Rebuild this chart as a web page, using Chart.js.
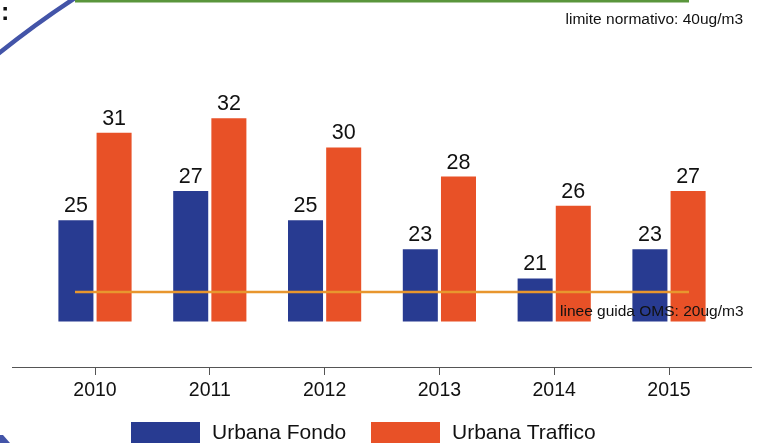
<!DOCTYPE html>
<html>
<head>
<meta charset="utf-8">
<script src="https://cdn.jsdelivr.net/npm/chart.js@4.4.0/dist/chart.umd.min.js"></script>
<style>
  html, body { margin: 0; padding: 0; background: #fff; }
  #wrap { position: relative; width: 758px; height: 443px; overflow: hidden; }
</style>
</head>
<body>
<div id="wrap"><canvas id="chart" width="758" height="443"></canvas></div>
<script>
// Values (ug/m3)
const years = ['2010', '2011', '2012', '2013', '2014', '2015'];
const urbanaFondo = [25, 27, 25, 23, 21, 23];
const urbanaTraffico = [31, 32, 30, 28, 26, 27];
const seriesNames = ['Urbana Fondo', 'Urbana Traffico'];

// bars start from this value, not from zero
const barBase = 17.9;
// reference levels
const limiteNormativo = 40;
const lineeGuidaOMS = 20;

const blue = '#283b91';
const orange = '#e85127';
const font = 'Liberation Sans, Arial, sans-serif';

// slide decorations + the long axis line
const decorPlugin = {
  id: 'decor',
  beforeDraw(chart) {
    const ctx = chart.ctx;
    ctx.save();
    // blue arc on the left edge (part of a big circle)
    ctx.strokeStyle = '#4354a8';
    ctx.lineWidth = 4.5;
    ctx.beginPath();
    ctx.arc(600, 800, 958.5, Math.PI * 1.25, Math.PI * 1.34);
    ctx.stroke();
    // corner piece bottom left
    ctx.fillStyle = '#4354a8';
    ctx.beginPath();
    ctx.moveTo(0, 435);
    ctx.lineTo(3, 435);
    ctx.lineTo(10, 443);
    ctx.lineTo(0, 443);
    ctx.closePath();
    ctx.fill();
    // title colon cut off at the edge
    ctx.fillStyle = '#111';
    ctx.font = 'bold 25px ' + font;
    ctx.textBaseline = 'alphabetic';
    ctx.fillText(':', 1, 20);
    // axis line runs wider than the plot
    const y = Math.round(chart.chartArea.bottom) + 0.5;
    ctx.strokeStyle = '#555';
    ctx.lineWidth = 1;
    ctx.beginPath();
    ctx.moveTo(12, y);
    ctx.lineTo(752, y);
    ctx.stroke();
    ctx.restore();
  }
};

// limit lines and their notes
const refLinesPlugin = {
  id: 'refLines',
  afterDatasetsDraw(chart) {
    const ctx = chart.ctx;
    const x = chart.scales.x, y = chart.scales.y;
    const x0 = x.getPixelForValue(0) - 20;
    const x1 = x.getPixelForValue(years.length - 1) + 20;
    ctx.save();
    ctx.lineWidth = 3;
    ctx.strokeStyle = '#5a963c';
    ctx.beginPath();
    ctx.moveTo(x0, Math.max(y.getPixelForValue(limiteNormativo), 1));
    ctx.lineTo(x1, Math.max(y.getPixelForValue(limiteNormativo), 1));
    ctx.stroke();
    ctx.lineWidth = 2.5;
    ctx.strokeStyle = '#e8962e';
    ctx.beginPath();
    ctx.moveTo(x0, y.getPixelForValue(lineeGuidaOMS));
    ctx.lineTo(x1, y.getPixelForValue(lineeGuidaOMS));
    ctx.stroke();

    ctx.fillStyle = '#111';
    ctx.font = '15.5px ' + font;
    ctx.textBaseline = 'alphabetic';
    ctx.textAlign = 'right';
    ctx.fillText('limite normativo: ' + limiteNormativo + 'ug/m3', 743, 24);
    ctx.textAlign = 'left';
    ctx.fillText('linee guida OMS: ' + lineeGuidaOMS + 'ug/m3', 560, 316);
    ctx.restore();
  }
};

// numbers over the bars
const valueLabels = {
  id: 'valueLabels',
  afterDraw(chart) {
    const ctx = chart.ctx;
    ctx.save();
    ctx.fillStyle = '#111';
    ctx.font = '21.5px ' + font;
    ctx.textAlign = 'center';
    ctx.textBaseline = 'alphabetic';
    chart.data.datasets.forEach((ds, i) => {
      chart.getDatasetMeta(i).data.forEach((bar, j) => {
        ctx.fillText(String(ds.data[j]), bar.x, bar.y - 7);
      });
    });
    ctx.restore();
  }
};

// legend at the bottom, cut by the frame like the original
const bottomLegend = {
  id: 'bottomLegend',
  afterDraw(chart) {
    const ctx = chart.ctx;
    const boxX = [131, 371];
    ctx.save();
    ctx.font = '21px ' + font;
    ctx.textBaseline = 'middle';
    ctx.textAlign = 'left';
    chart.data.datasets.forEach((ds, i) => {
      ctx.fillStyle = ds.backgroundColor;
      ctx.fillRect(boxX[i], 422, 69, 23);
      ctx.fillStyle = '#111';
      ctx.fillText(ds.label, boxX[i] + 81, 433);
    });
    ctx.restore();
  }
};

new Chart(document.getElementById('chart'), {
  type: 'bar',
  data: {
    labels: years,
    datasets: [
      { label: seriesNames[0], data: urbanaFondo, base: barBase, backgroundColor: blue },
      { label: seriesNames[1], data: urbanaTraffico, base: barBase, backgroundColor: orange }
    ]
  },
  options: {
    responsive: false,
    animation: false,
    devicePixelRatio: 1,
    layout: { padding: { left: 37.6, right: 31.6, top: 0.8, bottom: 0 } },
    datasets: {
      bar: {
        barPercentage: 0.97,
        categoryPercentage: 0.665,
        borderWidth: 1,
        borderColor: 'rgba(255,255,255,0.45)',
        borderSkipped: false
      }
    },
    scales: {
      x: {
        afterFit: s => { s.height = 76; },
        border: { display: false },
        grid: {
          offset: false,
          drawOnChartArea: false,
          drawTicks: true,
          tickLength: 8,
          color: '#555'
        },
        ticks: { color: '#111', padding: 4, font: { family: font, size: 19.5 } }
      },
      y: { display: false, min: 14.85, max: 40 }
    },
    plugins: {
      legend: { display: false },
      tooltip: { enabled: false }
    }
  },
  plugins: [decorPlugin, refLinesPlugin, valueLabels, bottomLegend]
});
</script>
</body>
</html>
